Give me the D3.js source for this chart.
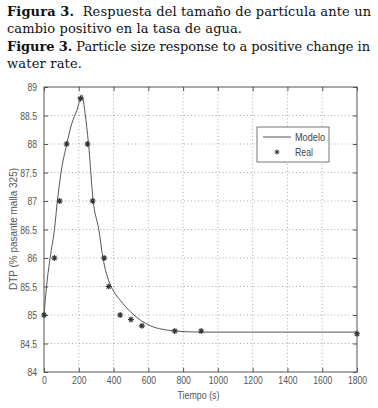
<!DOCTYPE html>
<html>
<head>
<meta charset="utf-8">
<script src="https://cdn.jsdelivr.net/npm/d3@7"></script>
<style>
  body { margin: 0; background: #fff; }
  svg { display: block; }
</style>
</head>
<body>
<div id="chart-area"></div>
<script>
// modelo (linea continua)
var modelT = [0, 10, 20, 35, 60, 77, 98, 131, 160, 190, 218, 236, 256, 283, 315, 339, 371, 400, 438, 496, 554, 612, 680, 750, 900, 1800];
var modelY = [85, 85.35, 85.65, 86, 86.5, 87, 87.5, 88, 88.36, 88.6, 88.86, 88.54, 88, 87, 86.5, 86, 85.61, 85.42, 85.26, 85.06, 84.91, 84.81, 84.75, 84.72, 84.7, 84.7];

// datos reales (asteriscos)
var realT = [0, 60, 90, 130, 210, 250, 280, 346, 372, 438, 500, 563, 752, 904, 1800];
var realY = [85, 86, 87, 88, 88.8, 88, 87, 86, 85.5, 85, 84.92, 84.81, 84.72, 84.72, 84.67];

var xTicks = [0, 200, 400, 600, 800, 1000, 1200, 1400, 1600, 1800];
var yTicks = [84, 84.5, 85, 85.5, 86, 86.5, 87, 87.5, 88, 88.5, 89];

var captionLines = [
  ["Figura 3.", "  Respuesta del tamaño de partícula ante un"],
  ["", "cambio positivo en la tasa de agua."],
  ["Figure 3.", " Particle size response to a positive change in"],
  ["", "water rate."]
];
var captionWidths = [364, 235, 363, 75];

var width = 378, height = 408;
var margin = { left: 44, right: 21, top: 87, bottom: 36 };

var svg = d3.select("#chart-area")
  .append("svg")
  .attr("width", width)
  .attr("height", height);

// caption
captionLines.forEach(function(l, i) {
  var t = svg.append("text")
    .attr("x", 7)
    .attr("y", 15.5 + i * 17.5)
    .attr("font-family", "'DejaVu Serif', 'Liberation Serif', serif")
    .attr("font-size", 13)
    .attr("fill", "#111")
    .attr("textLength", captionWidths[i])
    .attr("lengthAdjust", "spacing")
    .style("white-space", "pre");
  if (l[0]) t.append("tspan").attr("font-weight", "bold").text(l[0]);
  t.append("tspan").text(l[1]);
});

var w = width - margin.left - margin.right;
var h = height - margin.top - margin.bottom;

var g = svg.append("g")
  .attr("transform", "translate(" + margin.left + ", " + margin.top + ")");

var x = d3.scaleLinear().domain([0, 1800]).range([0, w]);
var y = d3.scaleLinear().domain([84, 89]).range([h, 0]);

var axisFont = "'Liberation Sans', Arial, sans-serif";
var axisCol = "#555";

// narrow look of the original labels
function narrow(sel) {
  sel.each(function() {
    var s = this.textContent;
    var n = s.replace(/[^0-9]/g, "").length;
    var dots = s.length - n;
    d3.select(this).attr("textLength", n * 4.8 + dots * 2.4)
      .attr("lengthAdjust", "spacingAndGlyphs");
  });
}

// grid
g.append("g").selectAll("line")
  .data(xTicks.slice(1, -1))
  .enter().append("line")
  .attr("x1", function(d){ return x(d); })
  .attr("x2", function(d){ return x(d); })
  .attr("y1", 0).attr("y2", h)
  .attr("stroke", "#aaa").attr("stroke-dasharray", "1,2.5");

g.append("g").selectAll("line")
  .data(yTicks.slice(1, -1))
  .enter().append("line")
  .attr("y1", function(d){ return y(d); })
  .attr("y2", function(d){ return y(d); })
  .attr("x1", 0).attr("x2", w)
  .attr("stroke", "#aaa").attr("stroke-dasharray", "1,2.5");

// axes (ticks inside, like matlab)
var fmt = function(d){ return String(d); };
var xAxisGroup = g.append("g").attr("transform", "translate(0, " + h + ")")
  .call(d3.axisBottom(x).tickValues(xTicks).tickSizeInner(-4).tickSizeOuter(0).tickPadding(4).tickFormat(fmt));
var xTopGroup = g.append("g")
  .call(d3.axisTop(x).tickValues(xTicks).tickSizeInner(-4).tickSizeOuter(0).tickFormat(""));
var yAxisGroup = g.append("g")
  .call(d3.axisLeft(y).tickValues(yTicks).tickSizeInner(-4).tickSizeOuter(0).tickPadding(7).tickFormat(fmt));
var yRightGroup = g.append("g").attr("transform", "translate(" + w + ", 0)")
  .call(d3.axisRight(y).tickValues(yTicks).tickSizeInner(-4).tickSizeOuter(0).tickFormat(""));

[xAxisGroup, xTopGroup, yAxisGroup, yRightGroup].forEach(function(a) {
  a.select(".domain").remove();
  a.selectAll("line").attr("stroke", axisCol);
  a.selectAll("text").attr("font-family", axisFont).attr("font-size", 11).attr("fill", axisCol);
});
xAxisGroup.selectAll("text").call(narrow);
yAxisGroup.selectAll("text").call(narrow);

g.append("rect")
  .attr("width", w).attr("height", h)
  .attr("fill", "none").attr("stroke", axisCol);

// model line
var line = d3.line()
  .x(function(d){ return x(d[0]); })
  .y(function(d){ return y(d[1]); })
  .curve(d3.curveMonotoneX);

g.append("path")
  .datum(d3.zip(modelT, modelY))
  .attr("d", line)
  .attr("fill", "none")
  .attr("stroke", "#555")
  .attr("stroke-width", 1);

// asterisk markers
function star(s) {
  var d = s * 0.7;
  return "M" + (-s) + ",0L" + s + ",0M0," + (-s) + "L0," + s +
    "M" + (-d) + "," + (-d) + "L" + d + "," + d + "M" + (-d) + "," + d + "L" + d + "," + (-d);
}

g.append("g").selectAll("path")
  .data(d3.zip(realT, realY))
  .enter().append("path")
  .attr("transform", function(d){ return "translate(" + x(d[0]) + "," + y(d[1]) + ")"; })
  .attr("d", star(3))
  .attr("stroke", "#333")
  .attr("stroke-width", 1.1)
  .attr("fill", "none");

// legend
var leg = g.append("g").attr("transform", "translate(213, 40)");
leg.append("rect")
  .attr("width", 72).attr("height", 35)
  .attr("fill", "#fff").attr("stroke", "#777");
leg.append("line")
  .attr("x1", 6).attr("x2", 34).attr("y1", 10).attr("y2", 10)
  .attr("stroke", "#555");
leg.append("path")
  .attr("transform", "translate(20, 25)")
  .attr("d", star(2.5))
  .attr("stroke", "#333").attr("fill", "none");
leg.append("text").attr("x", 38).attr("y", 14)
  .attr("font-family", axisFont).attr("font-size", 11).attr("fill", "#444")
  .attr("textLength", 30).attr("lengthAdjust", "spacingAndGlyphs")
  .text("Modelo");
leg.append("text").attr("x", 38).attr("y", 29)
  .attr("font-family", axisFont).attr("font-size", 11).attr("fill", "#444")
  .attr("textLength", 18).attr("lengthAdjust", "spacingAndGlyphs")
  .text("Real");

// axis titles
svg.append("text")
  .attr("x", margin.left + w / 2 - 2)
  .attr("y", 399)
  .attr("text-anchor", "middle")
  .attr("font-family", axisFont).attr("font-size", 11).attr("fill", axisCol)
  .attr("textLength", 42).attr("lengthAdjust", "spacingAndGlyphs")
  .text("Tiempo (s)");

svg.append("text")
  .attr("transform", "translate(17, 229) rotate(-90)")
  .attr("text-anchor", "middle")
  .attr("font-family", axisFont).attr("font-size", 11).attr("fill", axisCol)
  .attr("textLength", 122).attr("lengthAdjust", "spacingAndGlyphs")
  .text("DTP (% pasante malla 325)");
</script>
</body>
</html>
